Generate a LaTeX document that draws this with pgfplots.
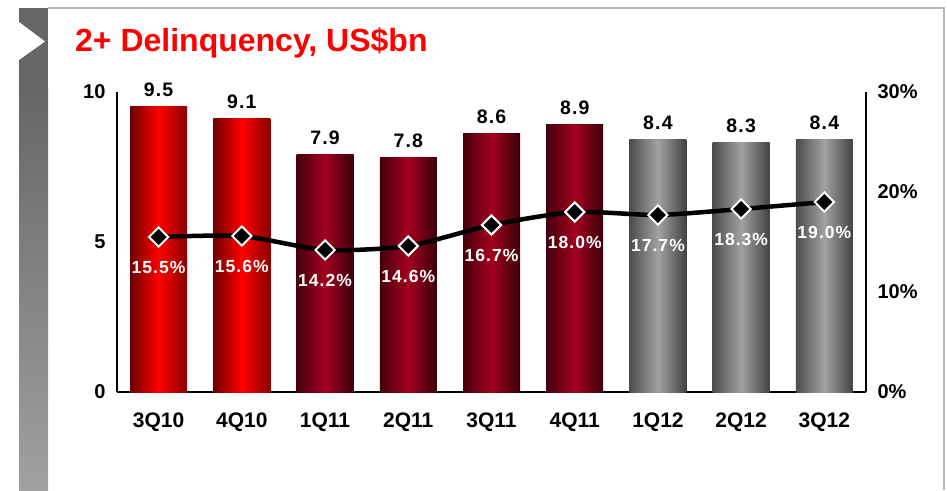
\documentclass[border=0pt]{standalone}
\usepackage{fontspec}
\setmainfont{Liberation Sans}
\newfontfamily\spaced[LetterSpace=6]{Liberation Sans}
\usepackage{pgfplots}
\pgfplotsset{compat=1.18}

\definecolor{redL}{HTML}{6E0000}
\definecolor{redM}{HTML}{FF0000}
\definecolor{redR}{HTML}{8A0000}
\definecolor{drL}{HTML}{45000C}
\definecolor{drM}{HTML}{A3001E}
\definecolor{drR}{HTML}{3A0009}
\definecolor{grL}{HTML}{4C4C4C}
\definecolor{grM}{HTML}{A2A2A2}
\definecolor{grR}{HTML}{424242}

\pgfplotsset{
  base/.style={
    at={(117pt,98pt)}, anchor=south west, scale only axis,
    width=749pt, height=300pt,
    xmin=-0.5, xmax=8.5, clip=false,
    axis line style={line width=2pt,-},
    tick style={draw=none},
    tick label style={font=\bfseries\fontsize{20}{24}\selectfont},
  },
  % one bar per plot, so that the shading covers that bar only
  bar/.style n args={3}{
    ybar, bar width=57pt, bar shift=0pt, draw=none,
    left color=#1, right color=#3, middle color=#2,
    point meta=explicit symbolic, nodes near coords,
    every node near coord/.append style={text=black,
      font=\spaced\bfseries\fontsize{19.5}{22}\selectfont, anchor=center, yshift=17pt},
  },
}

\begin{document}
\begin{tikzpicture}
\path[use as bounding box] (0,0) rectangle (947pt,490pt);
% slide frame
\draw[color=black!28, line width=1.3pt] (48pt,482pt) -- (944pt,482pt) -- (944pt,0pt);
\fill[color=black!60] (19pt,400pt) rectangle (48pt,482pt);
\shade[top color=black!60, bottom color=black!37] (19pt,0pt) rectangle (48pt,400.5pt);
\fill[white] (19pt,468pt) -- (45pt,448.5pt) -- (19pt,430pt) -- cycle;
\node[anchor=base west, text=red, inner sep=0pt,
  font=\bfseries\fontsize{32}{38}\selectfont] at (75pt,438pt) {2+ Delinquency, US\$bn};

\begin{axis}[base,
  ymin=0, ymax=10,
  axis x line*=bottom, axis y line*=left,
  xtick={0,...,8},
  xticklabels={3Q10,4Q10,1Q11,2Q11,3Q11,4Q11,1Q12,2Q12,3Q12},
  xticklabel style={anchor=center, yshift=-30pt, font=\bfseries\fontsize{21}{24}\selectfont},
  ytick={0,5,10}, yticklabels={0,5,10},
  yticklabel style={xshift=-8pt},
]
\addplot[bar={redL}{redM}{redR}] coordinates {(0,9.5) [9.5]};
\addplot[bar={redL}{redM}{redR}] coordinates {(1,9.1) [9.1]};
\addplot[bar={drL}{drM}{drR}] coordinates {(2,7.9) [7.9]};
\addplot[bar={drL}{drM}{drR}] coordinates {(3,7.8) [7.8]};
\addplot[bar={drL}{drM}{drR}] coordinates {(4,8.6) [8.6]};
\addplot[bar={drL}{drM}{drR}] coordinates {(5,8.9) [8.9]};
\addplot[bar={grL}{grM}{grR}] coordinates {(6,8.4) [8.4]};
\addplot[bar={grL}{grM}{grR}] coordinates {(7,8.3) [8.3]};
\addplot[bar={grL}{grM}{grR}] coordinates {(8,8.4) [8.4]};
\end{axis}

\begin{axis}[base,
  ymin=0, ymax=30,
  axis x line=none, axis y line*=right,
  ytick={0,10,20,30}, yticklabels={0\%,10\%,20\%,30\%},
  yticklabel style={xshift=8pt},
]
\addplot[black, line width=4.5pt, smooth, tension=0.4,
  mark=square*, mark size=6.8pt,
  mark options={rotate=45, fill=black, draw=white, line width=2pt},
  point meta=explicit symbolic, nodes near coords,
  every node near coord/.append style={text=white,
    font=\spaced\bfseries\fontsize{17.5}{20}\selectfont, anchor=center, yshift=-30pt}]
  coordinates {(0,15.5) [15.5\%] (1,15.6) [15.6\%] (2,14.2) [14.2\%]
    (3,14.6) [14.6\%] (4,16.7) [16.7\%] (5,18.0) [18.0\%]
    (6,17.7) [17.7\%] (7,18.3) [18.3\%] (8,19.0) [19.0\%]};
\end{axis}
\end{tikzpicture}
\end{document}
